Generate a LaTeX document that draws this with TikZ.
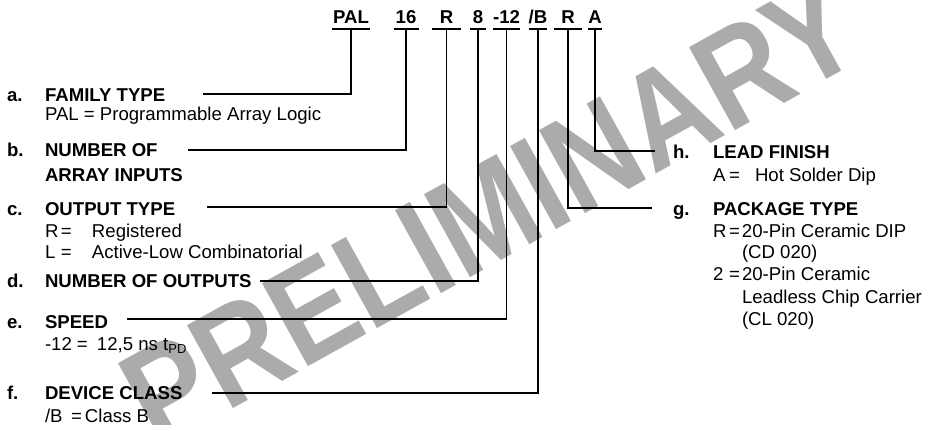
\documentclass[tikz,border=0pt]{standalone}
\usepackage{fontspec}
\setmainfont{Liberation Sans}
\newcommand\kvtxt[4]{\makebox[#1pt][l]{#3}\makebox[#2pt][l]{=}#4}
\begin{document}
\begin{tikzpicture}[x=1pt,y=-1pt,
  txt/.style={inner sep=0pt, outer sep=0pt, anchor=base west, font=\fontsize{18.6}{22}\selectfont},
  bld/.style={txt, font=\fontsize{18.6}{22}\selectfont\bfseries},
  code/.style={inner xsep=0pt, inner ysep=0pt, outer sep=0pt, anchor=base, text depth=5pt, text height=13pt, font=\fontsize{18.6}{22}\selectfont\bfseries},
  ul/.style={line width=1.8pt},
  lead/.style={line width=1.8pt, line join=miter},
  wm/.style={rotate=29, xscale=0.86, inner sep=0pt, text=black!33, font=\fontsize{138}{138}\selectfont\bfseries}]
\useasboundingbox (0,0) rectangle (945,425);
% watermark
\node[wm] (wmark) at (490,212) {PRELIMINARY};
% part number codes
\node[code, minimum width=38pt] (cPAL) at (351,24) {PAL};
\node[code, minimum width=25pt] (c16) at (406,24) {16};
\node[code, minimum width=29pt] (cR) at (446.5,24) {R};
\node[code, minimum width=16pt] (c8) at (478,24) {8};
\node[code, minimum width=27pt] (c12) at (506.5,24) {-12};
\node[code, minimum width=17pt] (cB) at (538,24) {/B};
\node[code, minimum width=28pt] (cR2) at (568,24) {R};
\node[code, minimum width=14pt] (cA) at (595,24) {A};
\foreach \n in {cPAL,c16,cR,c8,c12,cB,cR2,cA}
  \draw[ul] (\n.south west) -- (\n.south east);
% left descriptions
\node[bld] (la) at (7,102) {a.};
\node[bld] (ta) at (45,102) {FAMILY TYPE};
\node[txt] (va) at (45,121) {PAL = Programmable Array Logic};
\node[bld] (lb) at (7,157) {b.};
\node[bld] (tb) at (45,157) {NUMBER OF};
\node[bld] (tb2) at (45,182) {ARRAY INPUTS};
\node[bld] (lc) at (7,215) {c.};
\node[bld] (tc) at (45,215) {OUTPUT TYPE};
\node[txt] (vc1) at (45,237) {\kvtxt{16}{31}{R}{Registered}};
\node[txt] (vc2) at (45,258) {\kvtxt{16}{31}{L}{Active-Low Combinatorial}};
\node[bld] (ld) at (7,287) {d.};
\node[bld] (td) at (45,287) {NUMBER OF OUTPUTS};
\node[bld] (le) at (7,328) {e.};
\node[bld] (te) at (45,328) {SPEED};
\node[txt] (ve) at (45,350) {\kvtxt{32}{20}{-12}{12,5 ns t\textsubscript{PD}}};
\node[bld] (lf) at (7,399) {f.};
\node[bld] (tf) at (45,399) {DEVICE CLASS};
\node[txt] (vf) at (45,422) {\kvtxt{26}{14}{/B}{Class B}};
% right descriptions
\node[bld] (lh) at (673,158) {h.};
\node[bld] (th) at (713,158) {LEAD FINISH};
\node[txt] (vh) at (713,181) {\kvtxt{16}{26}{A}{Hot Solder Dip}};
\node[bld] (lg) at (673,215) {g.};
\node[bld] (tg) at (713,215) {PACKAGE TYPE};
\node[txt] (vg1) at (713,237) {\kvtxt{16}{13}{R}{20-Pin Ceramic DIP}};
\node[txt] (vg2) at (742,258) {(CD 020)};
\node[txt] (vg3) at (713,280) {\kvtxt{16}{13}{2}{20-Pin Ceramic}};
\node[txt] (vg4) at (742,303) {Leadless Chip Carrier};
\node[txt] (vg5) at (742,325) {(CL 020)};
% connector ends
\coordinate (eA) at (203,94);
\coordinate (eB) at (188,150);
\coordinate (eC) at (207,207);
\coordinate (eD) at (260,281);
\coordinate (eE) at (127,319);
\coordinate (eF) at (212,393);
\coordinate (eH) at (655,151);
\coordinate (eG) at (652,208);
% connectors
\draw[lead] (cPAL.south) |- (eA);
\draw[lead] (c16.south) |- (eB);
\draw[lead] (cR.south) |- (eC);
\draw[lead] (c8.south) |- (eD);
\draw[lead] (c12.south) |- (eE);
\draw[lead] (cB.south) |- (eF);
\draw[lead] (cR2.south) |- (eG);
\draw[lead] (cA.south) |- (eH);
\end{tikzpicture}
\end{document}
